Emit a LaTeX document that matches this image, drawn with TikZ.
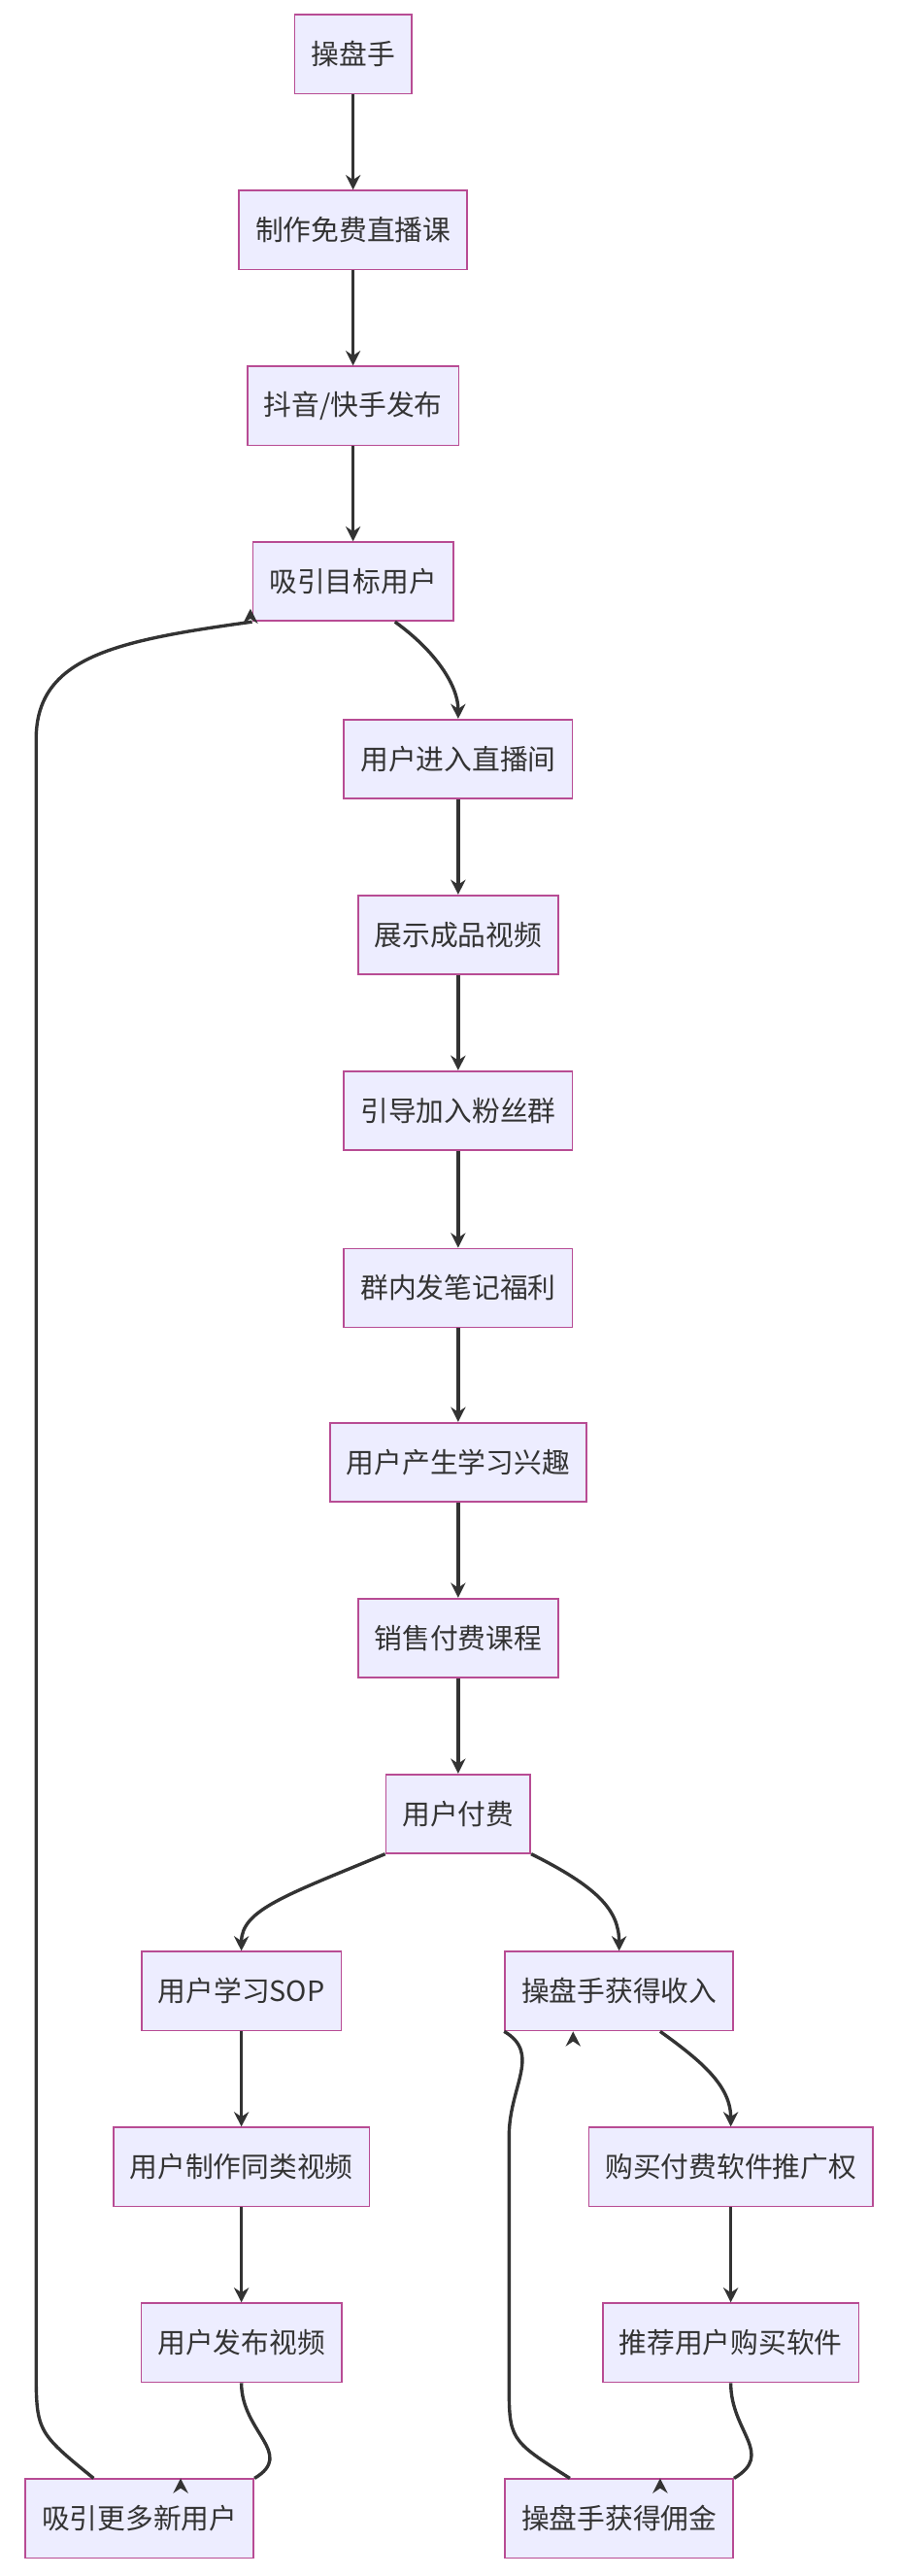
\documentclass[tikz,border=0pt]{standalone}
\usepackage{fontspec}
\setmainfont{Noto Sans CJK SC}
\usetikzlibrary{arrows.meta}

\begin{document}
\begin{tikzpicture}[x=1pt,y=-1pt,
box/.style={draw=violet!60!purple!70, fill=blue!7, line width=1pt, minimum height=48pt, inner xsep=10pt, font=\fontsize{17}{17}\selectfont, text=black!80},
arrow/.style={-{Stealth[length=9pt,width=9pt]}, line width=2pt, draw=black!80},
]
\useasboundingbox (0,0) rectangle (549,1568);

\node[box] (n1) at (215,33) {操盘手};
\node[box] (n2) at (215,140) {制作免费直播课};
\node[box] (n3) at (215,247) {抖音/快手发布};
\node[box] (n4) at (215,354) {吸引目标用户};
\node[box] (n5) at (279,462) {用户进入直播间};
\node[box] (n6) at (279,569) {展示成品视频};
\node[box] (n7) at (279,676) {引导加入粉丝群};
\node[box] (n8) at (279,784) {群内发笔记福利};
\node[box] (n9) at (279,890) {用户产生学习兴趣};
\node[box] (n10) at (279,997) {销售付费课程};
\node[box] (n11) at (279,1104) {用户付费};
\node[box] (l1) at (147,1212) {用户学习SOP};
\node[box] (l2) at (147,1319) {用户制作同类视频};
\node[box] (l3) at (147,1426) {用户发布视频};
\node[box] (l4) at (85,1533) {吸引更多新用户};
\node[box] (r1) at (377,1212) {操盘手获得收入};
\node[box] (r2) at (445,1319) {购买付费软件推广权};
\node[box] (r3) at (445,1426) {推荐用户购买软件};
\node[box] (r4) at (377,1533) {操盘手获得佣金};

\draw[arrow] (n1) -- (n2);
\draw[arrow] (n2) -- (n3);
\draw[arrow] (n3) -- (n4);
\draw[arrow] (n4.south east) ++(-36,0) .. controls +(25,18) and +(0,-20) .. (n5.north);
\draw[arrow] (n5) -- (n6);
\draw[arrow] (n6) -- (n7);
\draw[arrow] (n7) -- (n8);
\draw[arrow] (n8) -- (n9);
\draw[arrow] (n9) -- (n10);
\draw[arrow] (n10) -- (n11);
\draw[arrow] (n11.south west) .. controls +(-60,25) and +(0,-25) .. (l1.north);
\draw[arrow] (n11.south east) .. controls +(40,20) and +(0,-25) .. (r1.north);
\draw[arrow] (l1) -- (l2);
\draw[arrow] (l2) -- (l3);
\draw[arrow] (l3.south) .. controls +(0,30) and +(25,-15) .. (l4.north east) ++(-45,0);
\draw[arrow] (r1.south east) ++(-45,0) .. controls +(25,18) and +(0,-25) .. (r2.north);
\draw[arrow] (r2) -- (r3);
\draw[arrow] (r3.south) .. controls +(0,30) and +(25,-15) .. (r4.north east) ++(-45,0);
% loops back
\draw[arrow] (l4.north) ++(-28,0) .. controls (22,1480) .. (22,1440) -- (22,450) .. controls (22,400) and (70,390) .. (n4.south west) ++(-1,-8);
\draw[arrow] (r4.north) ++(-30,0) .. controls (310,1485) .. (310,1450) -- (310,1300) .. controls (310,1270) and (330,1250) .. (r1.south west) ++(42,0);
\end{tikzpicture}
\end{document}
